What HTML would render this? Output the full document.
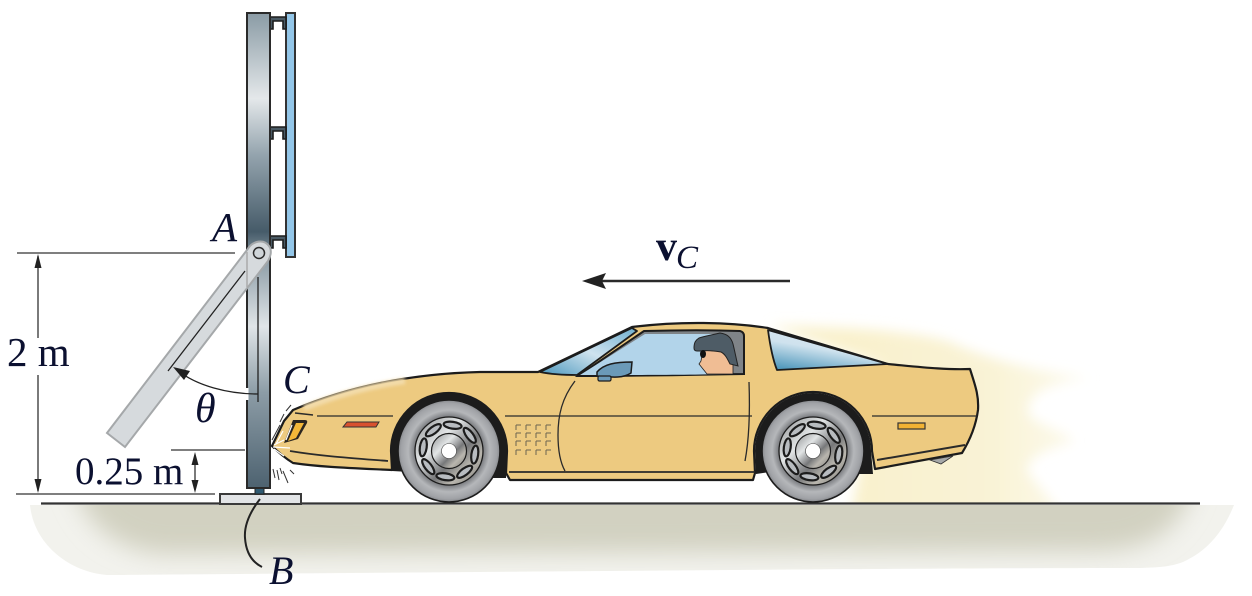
<!DOCTYPE html>
<html><head><meta charset="utf-8"><style>
html,body{margin:0;padding:0;background:#fff}
svg{display:block}
text{font-family:"Liberation Serif",serif;fill:#0b1030}
</style></head><body>
<svg width="1252" height="596" viewBox="0 0 1252 596" xmlns="http://www.w3.org/2000/svg">
<defs>
<linearGradient id="col" x1="0" y1="0" x2="0" y2="1">
<stop offset="0" stop-color="#8a9ba5"/><stop offset=".18" stop-color="#e4e8ea"/><stop offset=".3" stop-color="#93a3ad"/><stop offset=".46" stop-color="#465b69"/><stop offset=".52" stop-color="#8d9da7"/><stop offset=".66" stop-color="#e0e5e8"/><stop offset=".8" stop-color="#8c9ca6"/><stop offset="1" stop-color="#4d6270"/>
</linearGradient>
<linearGradient id="haze" gradientUnits="userSpaceOnUse" x1="850" y1="0" x2="1090" y2="0"><stop offset="0" stop-color="#f9f1cd"/><stop offset=".6" stop-color="#f9f3d6"/><stop offset="1" stop-color="#fdfbf0"/></linearGradient>
<linearGradient id="glass" x1="0" y1="1" x2="1" y2="0"><stop offset="0" stop-color="#4b97bd"/><stop offset=".5" stop-color="#cfe3ef"/><stop offset="1" stop-color="#6fb0d0"/></linearGradient>
<linearGradient id="rear" x1="0" y1="1" x2=".5" y2="0"><stop offset="0" stop-color="#3f8eb5"/><stop offset=".6" stop-color="#cfe2ee"/><stop offset="1" stop-color="#dbe9f2"/></linearGradient>
<linearGradient id="hub" x1="0" y1="0" x2="1" y2="1"><stop offset="0" stop-color="#8d8f90"/><stop offset=".35" stop-color="#e2e5e6"/><stop offset=".6" stop-color="#77787a"/><stop offset=".75" stop-color="#b9b6ae"/><stop offset="1" stop-color="#7b7a76"/></linearGradient>
<radialGradient id="tyre"><stop offset=".66" stop-color="#75777b"/><stop offset=".8" stop-color="#b5b7ba"/><stop offset=".94" stop-color="#a0a2a6"/><stop offset="1" stop-color="#85878b"/></radialGradient>
<filter id="b1" x="-20%" y="-20%" width="140%" height="140%"><feGaussianBlur stdDeviation="6"/></filter>
<filter id="b2" x="-20%" y="-40%" width="140%" height="180%"><feGaussianBlur stdDeviation="1.500"/></filter>
<filter id="b3" x="-10%" y="-60%" width="120%" height="220%"><feGaussianBlur stdDeviation="12"/></filter>
<clipPath id="gc"><path d="M30 505H1234C1222 535 1205 552 1183 562C1170 567 1155 568 1130 568C900 568 500 572 107 575C70 572 34 545 30 505Z"/></clipPath>
<clipPath id="hc"><rect x="760" y="300" width="400" height="203"/></clipPath>
<g id="wheel">
<circle r="51" fill="url(#tyre)" stroke="#1c1c1c" stroke-width="1.600"/>
<circle r="34" fill="url(#hub)" stroke="#1c1c1c" stroke-width="1.300"/>
<g fill="#b8bcc0" stroke="#1c1c1c" stroke-width="2.200">
<ellipse cx="0" cy="-26" rx="9" ry="3.400" transform="rotate(8)"/>
<ellipse cx="0" cy="-26" rx="9" ry="3.400" transform="rotate(53)"/>
<ellipse cx="0" cy="-26" rx="9" ry="3.400" transform="rotate(98)"/>
<ellipse cx="0" cy="-26" rx="9" ry="3.400" transform="rotate(143)"/>
<ellipse cx="0" cy="-26" rx="9" ry="3.400" transform="rotate(188)"/>
<ellipse cx="0" cy="-26" rx="9" ry="3.400" transform="rotate(233)"/>
<ellipse cx="0" cy="-26" rx="9" ry="3.400" transform="rotate(278)"/>
<ellipse cx="0" cy="-26" rx="9" ry="3.400" transform="rotate(323)"/>
</g>
<circle r="17.500" fill="url(#hub)" stroke="#1c1c1c" stroke-width="1.200"/>
<circle r="7.500" fill="#fff" stroke="#444" stroke-width=".6"/>
</g>
<g id="br"><path d="M270 0H286V12H283V4H273V12H270Z" fill="#4a5a64" stroke="#1c1c1c" stroke-width="1.600"/></g>
</defs>

<!-- ground -->
<g clip-path="url(#gc)">
<rect x="20" y="500" width="1225" height="80" fill="#f2f2ed"/>
<path d="M66 450H1200C1192 525 1160 548 1100 551L160 554C112 547 76 525 66 450Z" fill="#d2d1c1" filter="url(#b3)"/>
</g>

<!-- exhaust haze -->
<g clip-path="url(#hc)"><g filter="url(#b1)">
<path d="M770 326C850 326 920 332 950 342C1000 365 1050 372 1090 378C1040 385 1028 395 1028 413C1033 425 1070 432 1074 442C1040 450 1023 462 1028 473C1040 488 1050 498 1066 520H850L880 364Z" fill="url(#haze)"/>
</g></g>

<!-- ground line -->
<line x1="41" y1="503.500" x2="1200" y2="503.500" stroke="#333" stroke-width="2.200"/>

<!-- base plate -->
<rect x="220" y="494" width="81" height="10" fill="#e2e4e6" stroke="#3a3a3a" stroke-width="2"/>
<rect x="255" y="488" width="9" height="6" fill="#2f5a72" stroke="#222" stroke-width="1"/>

<!-- panel & brackets -->
<rect x="286" y="13" width="9" height="244" fill="#93c6e8" stroke="#333" stroke-width="2"/>
<use href="#br" y="17"/><use href="#br" y="127"/><use href="#br" y="236"/>

<!-- column -->
<rect x="247" y="13" width="23" height="475" fill="url(#col)" stroke="#2a2a2a" stroke-width="2"/>
<line x1="258" y1="277" x2="258" y2="402" stroke="#222" stroke-width="1.300"/>
<line x1="247" y1="388" x2="247" y2="400" stroke="#fff" stroke-width="3"/>

<!-- arm -->
<path d="M247 250C253 240 264 239 269 246C272 250 271 256 268 261L125 447L107 433Z" fill="#d6dadd" stroke="#a5a8aa" stroke-width="2"/>
<line x1="247" y1="252" x2="247" y2="287" stroke="#aaa" stroke-width="1.500"/>
<line x1="245" y1="271" x2="168" y2="371" stroke="#222" stroke-width="1.300"/>
<circle cx="259" cy="253" r="5.500" fill="#cfd5d9" stroke="#2a2a2a" stroke-width="1.500"/>

<!-- theta arc -->
<path d="M258 394C226 394 198 385 181 373" fill="none" stroke="#222" stroke-width="1.300"/>
<path d="M173 367L190 371L184 380Z" fill="#222"/>

<!-- dimensions -->
<g stroke="#333" stroke-width="1.300" fill="none">
<line x1="17" y1="253" x2="235" y2="253"/>
<line x1="38" y1="256" x2="38" y2="338"/>
<line x1="38" y1="375" x2="38" y2="491"/>
<line x1="16" y1="494" x2="215" y2="494"/>
<line x1="171" y1="450" x2="245" y2="450"/>
<line x1="195" y1="455" x2="195" y2="490"/>
</g>
<g fill="#222">
<path d="M38 254L34.500 268H41.500Z"/>
<path d="M38 493L34.500 479H41.500Z"/>
<path d="M195 452L191.500 465H198.500Z"/>
<path d="M195 493L191.500 480H198.500Z"/>
</g>
<path d="M260 499C250 512 244 525 245 538C246 552 252 562 262 567" fill="none" stroke="#222" stroke-width="2"/>

<!-- wheel wells (behind body) -->
<path d="M392 471L391 451A58 58 0 0 1 507 451L506 478H490L410 472Z" fill="#1c1c1c"/>
<path d="M756 474L755 451A58 58 0 0 1 871 451L873 474H860L770 472Z" fill="#1c1c1c"/>

<!-- car body -->
<path d="M272 446L284 421L293 410C340 390 400 374 480 372L538 372L632 327C680 321 730 322 768 328L888 364C920 367 945 370 970 369C975 385 979 395 978 410C976 425 970 440 962 453L875 469L872 451A59 59 0 0 0 754 451L755 473L753 480H510L506 473L507 451A58 58 0 0 0 391 451L392 470C350 468 320 467 293 463C285 458 278 452 272 446Z" fill="#edca80" stroke="#1c1c1c" stroke-width="2.200" stroke-linejoin="round"/>
<path d="M304 408C340 394 370 386 405 381" fill="none" stroke="#f3dcaa" stroke-width="6" filter="url(#b2)"/>

<!-- belt lines -->
<g fill="none" stroke="#2a2a2a">
<path d="M317 416H393M505 416H752" stroke-width="1.200"/>
<path d="M872 416H977" stroke-width="1.200"/>
<path d="M295 413L313 415" stroke-width="1.500"/>
<path d="M290 451C320 456 350 458 388 461" stroke-width="1.800"/>
<path d="M877 460L965 445" stroke-width="2"/>
<path d="M509 472H755" stroke-width="1.800"/>
<path d="M575 381C562 398 558 415 558 435C558 450 560 462 565 471" stroke-width="1.300"/>
<path d="M749 382C750 410 749 440 745 461" stroke-width="1.300"/>
</g>

<!-- wheels -->
<use href="#wheel" x="449" y="451"/>
<use href="#wheel" x="813" y="451"/>

<!-- lights -->
<path d="M347 422H379L376 427H343Z" fill="#d9512f" stroke="#333" stroke-width="1"/>
<rect x="898" y="423" width="27" height="6" fill="#f2b233" stroke="#333" stroke-width="1.200"/>
<path d="M293 420H305Q308 420 307 423L298 439L284 443Z" fill="#2b2620"/>
<path d="M296 423H304L296 438L288 441Z" fill="#f3b739"/>
<path d="M292 425L286 440" stroke="#fff" stroke-width="1.200"/>
<path d="M930 460L953 456L941 464Z" fill="#a6a8a8" stroke="#333" stroke-width=".8"/>

<!-- vent -->
<g stroke="#6b6450" stroke-width="1" fill="none">
<path d="M516 425v5M516 425h5M526 425v5M526 425h5M536 425v5M536 425h5M546 425v5M546 425h5"/>
<path d="M516 433v5M516 433h5M526 433v5M526 433h5M536 433v5M536 433h5M546 433v5M546 433h5"/>
<path d="M516 441v5M516 441h5M526 441v5M526 441h5M536 441v5M536 441h5M546 441v5M546 441h5"/>
<path d="M516 450v5M516 450h5M526 450v5M526 450h5M536 450v5M536 450h5M546 450v5M546 450h5"/>
</g>

<!-- windows -->
<path d="M540 372L632 328L637 331L577 375C565 375 550 374 540 372Z" fill="url(#glass)" stroke="#1c1c1c" stroke-width="1.800" stroke-linejoin="round"/>
<path d="M578 376L644 331C680 330 715 330 740 331Q744 332 744 336V374C690 375 630 376 578 376Z" fill="#7f8488" stroke="#1c1c1c" stroke-width="2"/>
<path d="M580 375L645 334H724V374C690 375 630 375 580 375Z" fill="#b2d4ea"/>
<path d="M768 330L888 364L777 370C773 360 770 345 768 330Z" fill="url(#rear)" stroke="#1c1c1c" stroke-width="1.800" stroke-linejoin="round"/>

<!-- driver -->
<path d="M703 350L701 361L699 364L703 369L707 374H733V363L726 352Z" fill="#f0bd94" stroke="#222" stroke-width=".8"/>
<path d="M694 348C694 342 696 340 699 338C705 336 712 335 720 333C727 334 731 337 733 344C735 352 736 358 738 366L730 364C727 358 725 354 721 352C715 351 708 350 702 351L697 351C695 351 694 350 694 348Z" fill="#4e5c66" stroke="#222" stroke-width="1"/>
<ellipse cx="703" cy="354" rx="3" ry="4" fill="#111"/>

<!-- mirror -->
<path d="M597 372C604 364 615 362 632 362L631 373C622 379 610 377 597 376Z" fill="#6b9ab8" stroke="#1c1c1c" stroke-width="1.500"/>
<rect x="598" y="376" width="13" height="5" rx="1.500" fill="#6b9ab8" stroke="#1c1c1c" stroke-width="1.200"/>

<!-- impact marks -->
<g stroke="#333" stroke-width="1" fill="none">
<path d="M272 440L280 425M280 422L284 414M286 411L291 405"/>
<path d="M273 469L275 478M277 470L279 480M283 471L288 483M290 470L294 474M280 468L282 474"/>
</g>
<g stroke="#fff" stroke-width="1.200" fill="none">
<path d="M273 447L290 448M274 449L284 456M274 445L284 440M276 444L283 431"/>
</g>

<!-- velocity arrow -->
<line x1="598" y1="281" x2="790" y2="281" stroke="#2a2a2a" stroke-width="2.600"/>
<path d="M582 281L606 273L602 281L606 289Z" fill="#222"/>

<!-- labels -->
<text x="212" y="241" font-size="41" font-style="italic">A</text>
<text x="283" y="393" font-size="40" font-style="italic">C</text>
<text x="269" y="584" font-size="40" font-style="italic">B</text>
<text x="195" y="422" font-size="42" font-style="italic">θ</text>
<text x="7" y="366" font-size="41">2 m</text>
<text x="75" y="484" font-size="39">0.25 m</text>
<text x="656" y="260" font-size="42" font-weight="bold">v</text>
<text x="676" y="268" font-size="33" font-style="italic">C</text>
</svg>
</body></html>
